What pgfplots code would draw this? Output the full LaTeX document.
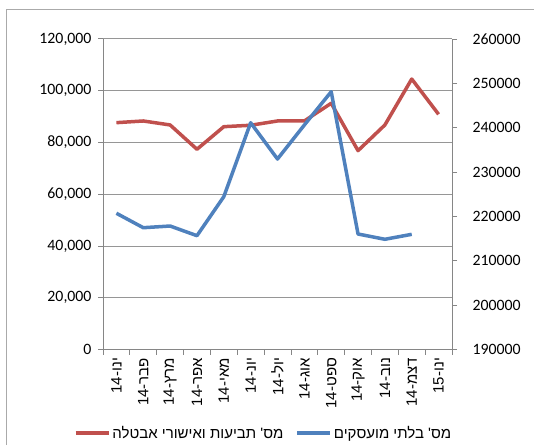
\documentclass[border=0pt]{standalone}
\usepackage{pgfplots}
\pgfplotsset{compat=1.18}
\usepackage{fontspec}
\setmainfont{Carlito}
\newfontfamily\heb[Script=Hebrew]{Liberation Sans}
\TeXXeTstate=1
\definecolor{cred}{RGB}{192,80,77}
\definecolor{cblue}{RGB}{79,129,189}
\definecolor{axgray}{RGB}{134,134,134}
\definecolor{gridgray}{RGB}{150,150,150}
\definecolor{framegray}{RGB}{170,170,170}

\pgfplotstableread{
x y
0 87640
1 88290
2 86750
3 77360
4 86090
5 86630
6 88290
7 88290
8 95130
9 76820
10 86750
11 104500
12 90880
}\claims

\pgfplotstableread{
x y
0 220700
1 217450
2 217830
3 215650
4 224440
5 241110
6 232930
7 240600
8 248100
9 216030
10 214840
11 215960
}\unemployed

\pgfplotsset{
  common/.style={
    at={(103pt,95.5pt)}, anchor=south west,
    scale only axis, width=349pt, height=310.6pt,
    xmin=-0.5, xmax=12.5,
    tick align=outside, major tick length=5pt,
    tick style={axgray, line width=0.8pt},
    axis line style={axgray, line width=1pt},
    scaled y ticks=false,
    every tick label/.append style={font=\fontsize{15.8}{18}\selectfont},
  }
}

\begin{document}
\begin{tikzpicture}
\useasboundingbox (0,0) rectangle (534pt,445pt);
\draw[framegray, line width=1pt] (6.5pt,0pt) -- (6.5pt,435.5pt) -- (534pt,435.5pt);
\begin{axis}[common,
  ymin=0, ymax=120000,
  ytick={0,20000,40000,60000,80000,100000,120000},
  yticklabels={0,{20,000},{40,000},{60,000},{80,000},{100,000},{120,000}},
  axis y line*=left, axis x line*=bottom,
  ymajorgrids, grid style={gridgray, line width=0.8pt},
  yticklabel style={xshift=-3pt},
  x tick label as interval,
  xtick={-0.5,0.5,...,12.5},
  xticklabels={
    {\heb\beginR ינו-\beginL 14\endL\endR},
    {\heb\beginR פבר-\beginL 14\endL\endR},
    {\heb\beginR מרץ-\beginL 14\endL\endR},
    {\heb\beginR אפר-\beginL 14\endL\endR},
    {\heb\beginR מאי-\beginL 14\endL\endR},
    {\heb\beginR יונ-\beginL 14\endL\endR},
    {\heb\beginR יול-\beginL 14\endL\endR},
    {\heb\beginR אוג-\beginL 14\endL\endR},
    {\heb\beginR ספט-\beginL 14\endL\endR},
    {\heb\beginR אוק-\beginL 14\endL\endR},
    {\heb\beginR נוב-\beginL 14\endL\endR},
    {\heb\beginR דצמ-\beginL 14\endL\endR},
    {\heb\beginR ינו-\beginL 15\endL\endR}},
  xticklabel style={rotate=90, anchor=east, font=\heb\fontsize{15}{18}\selectfont},
]
\addplot[cred, line width=3.5pt, line join=round] table[x=x,y=y] {\claims};
\end{axis}
\begin{axis}[common,
  ymin=190000, ymax=260000,
  ytick={190000,200000,210000,220000,230000,240000,250000,260000},
  yticklabels={190000,200000,210000,220000,230000,240000,250000,260000},
  axis y line*=right, axis x line=none,
  yticklabel style={xshift=12pt},
  legend style={at={(0.46,-0.269)}, anchor=center, draw=none, fill=none,
    font=\heb\fontsize{15}{18}\selectfont,
    /tikz/every even column/.append style={column sep=10pt}},
  legend columns=2,
  legend image code/.code={\draw[#1] (0pt,0pt) -- (33pt,0pt);},
]
\addlegendimage{cred, line width=3.5pt}
\addlegendentry{\beginR מס' תביעות ואישורי אבטלה\endR}
\addplot[cblue, line width=3.5pt, line join=round] table[x=x,y=y] {\unemployed};
\addlegendentry{\beginR מס' בלתי מועסקים\endR}
\end{axis}
\end{tikzpicture}
\end{document}
